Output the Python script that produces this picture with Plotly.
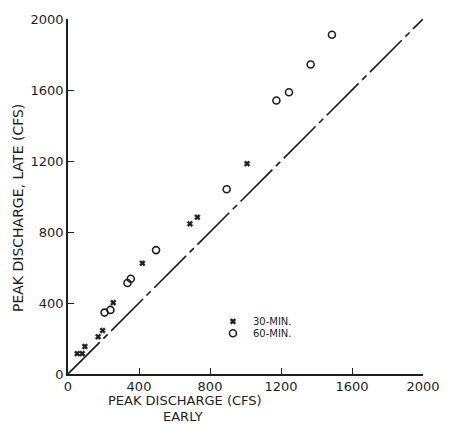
import plotly.graph_objects as go

# 30-minute unit hydrograph peaks (early vs late)
early_30 = [52, 80, 95, 170, 195, 255, 419, 687, 729, 1009]
late_30 = [115, 115, 155, 210, 245, 402, 624, 846, 883, 1185]

# 60-minute unit hydrograph peaks
early_60 = [206, 239, 335, 354, 496, 894, 1174, 1245, 1367, 1487]
late_60 = [346, 361, 513, 537, 698, 1041, 1541, 1587, 1744, 1911]

# line of equality
eq_x = [0, 2000]
eq_y = [0, 2000]

tick_vals = [0, 400, 800, 1200, 1600, 2000]
tick_text = ["0", "400", "800", "1200", "1600", "2000"]

ink = "#1e1e1e"
FONT = "DejaVu Sans"

fig = go.Figure()
fig.add_trace(go.Scatter(
    x=eq_x, y=eq_y, mode="lines", showlegend=False,
    line=dict(color=ink, width=1.6, dash="45px,5px,6px,5px"),
    hoverinfo="skip"))
fig.add_trace(go.Scatter(
    x=early_30, y=late_30, mode="markers", name="30-MIN.", legend="legend",
    marker=dict(symbol="x", size=5, color=ink, line=dict(width=0.6, color=ink)),
    cliponaxis=False))
fig.add_trace(go.Scatter(
    x=early_60, y=late_60, mode="markers", name="60-MIN.", legend="legend2",
    marker=dict(symbol="circle-open", size=7, color=ink, line=dict(width=1.6, color=ink)),
    cliponaxis=False))

axis_common = dict(
    range=[0, 2000], tickvals=tick_vals, ticktext=tick_text,
    showgrid=False, zeroline=False, showline=True, linecolor=ink, linewidth=1.6,
    ticks="inside", ticklen=6, tickwidth=1.4, tickcolor=ink,
    tickfont=dict(family=FONT, size=13, color=ink),
)
fig.update_xaxes(**axis_common)
fig.update_yaxes(**axis_common)

def px_x(p):
    return (p - 68) / 360

def px_y(p):
    return (374 - p) / 360

leg_font = dict(family=FONT, size=10, color=ink)
title_font = dict(family=FONT, size=13, color=ink)
fig.update_layout(
    width=452, height=426,
    margin=dict(l=68, r=24, t=14, b=52),
    paper_bgcolor="white", plot_bgcolor="white",
    font=dict(family=FONT, color=ink),
    legend=dict(x=px_x(215), y=px_y(306), xanchor="left", yanchor="top",
                bgcolor="rgba(0,0,0,0)", font=leg_font, itemwidth=30),
    legend2=dict(x=px_x(215), y=px_y(318), xanchor="left", yanchor="top",
                 bgcolor="rgba(0,0,0,0)", font=leg_font, itemwidth=30),
    annotations=[
        dict(text="PEAK DISCHARGE (CFS)", xref="paper", yref="paper",
             x=px_x(187), y=px_y(401), xanchor="center", yanchor="middle",
             showarrow=False, font=title_font),
        dict(text="EARLY", xref="paper", yref="paper",
             x=px_x(185), y=px_y(417), xanchor="center", yanchor="middle",
             showarrow=False, font=title_font),
        dict(text="PEAK DISCHARGE, LATE (CFS)", xref="paper", yref="paper",
             x=px_x(18), y=px_y(206), xanchor="center", yanchor="middle",
             textangle=-90, showarrow=False, font=dict(family=FONT, size=14, color=ink)),
    ],
)

fig.write_html("out.html")
